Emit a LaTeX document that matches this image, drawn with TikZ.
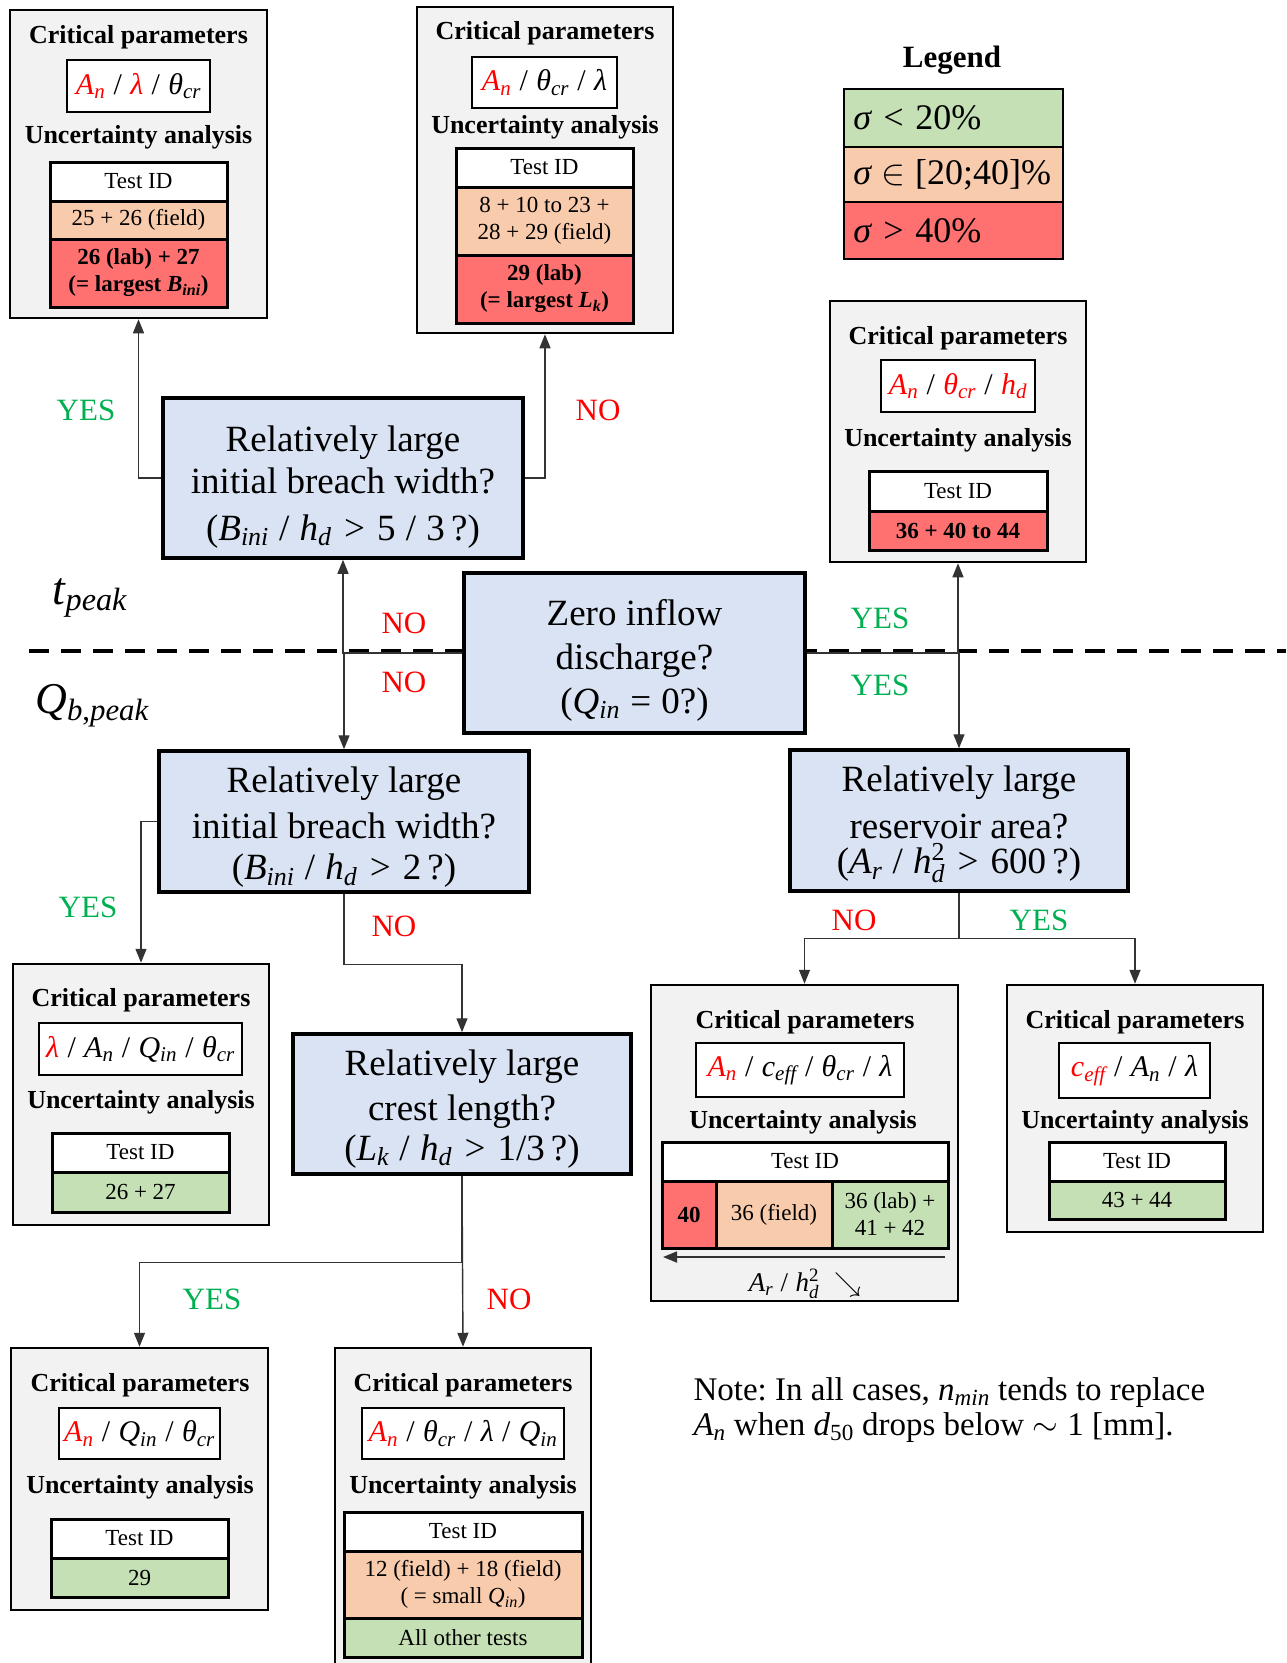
\RequirePackage{fix-cm}
\documentclass[tikz,border=0pt]{standalone}
\usepackage[no-math]{fontspec}
\setmainfont{Liberation Serif}
\usetikzlibrary{arrows.meta}

% math letters and digits in the text face
\DeclareSymbolFont{operators}{TU}{\rmdefault}{m}{n}
\DeclareSymbolFont{letters}{TU}{\rmdefault}{m}{it}
\mathcode`/="002F
\mathcode`,="602C
\mathcode`;="003B
\Umathchardef\lambda="0 "1 "03BB
\Umathchardef\theta="0 "1 "03B8
\Umathchardef\sigma="0 "1 "03C3

\definecolor{decblue}{RGB}{218,227,243}
\definecolor{resgrey}{RGB}{242,242,242}
\definecolor{cgreen}{RGB}{197,224,180}
\definecolor{corange}{RGB}{248,203,173}
\definecolor{cred}{RGB}{255,112,112}
\definecolor{yesgreen}{RGB}{0,176,80}
\definecolor{nored}{RGB}{255,0,0}

\newcommand{\rd}[1]{{\color{nored}#1}}
\newcommand{\dv}{\;/\;}

\begin{document}
\begin{tikzpicture}[x=1pt,y=-1pt,
    dec/.style={draw,line width=3.5pt,fill=decblue,inner sep=0pt},
    dectxt/.style={align=center,inner sep=0pt,font=\fontsize{37}{#1}\selectfont},
    res/.style={draw,line width=2.5pt,fill=resgrey,inner sep=0pt},
    ttl/.style={font=\bfseries\fontsize{26}{30}\selectfont},
    prm/.style={draw,line width=2pt,fill=white,inner sep=0pt,font=\fontsize{30}{36}\selectfont},
    cell/.style={draw,line width=3pt,inner sep=0pt,align=center,font=\fontsize{23}{27}\selectfont},
    leg/.style={draw,line width=2.5pt,inner sep=0pt,minimum width=219,font=\fontsize{36}{40}\selectfont},
    yeslbl/.style={text=yesgreen,font=\fontsize{31}{36}\selectfont},
    nolbl/.style={text=nored,font=\fontsize{31}{36}\selectfont},
    conn/.style={line width=1.4pt,draw=black!80},
    arr/.style={conn,-{Triangle[length=14pt,width=11pt]}}]
    \useasboundingbox (0,0) rectangle (1286,1663);

    % time / discharge split
    \draw[line width=4pt,dash pattern=on 20pt off 12pt] (29,651) -- (1286,651);
    \node[font=\fontsize{46}{48}\selectfont] (tpk) at (90,598) {$t_{peak}$};
    \node[font=\fontsize{44}{46}\selectfont] (qpk) at (92,706) {$Q_{b,peak}$};

    % questions
    \node[dec,minimum width=360,minimum height=160] (dec1) at (343,478) {};
    \node[dectxt=42] at ([yshift=-9pt]dec1.center) {Relatively large\\initial breach width?\\[5pt]$(B_{ini}\dv h_d > 5\dv 3\,?)$};
    \node[dec,minimum width=341,minimum height=160] (zero) at (634.5,653) {};
    \node[dectxt=44] at ([yshift=-7pt]zero.center) {Zero inflow\\discharge?\\$(Q_{in} = 0?)$};
    \node[dec,minimum width=370,minimum height=141] (dec2) at (344,821.5) {};
    \node[dectxt=46] at ([yshift=-6pt]dec2.center) {Relatively large\\initial breach width?\\[-5pt]$(B_{ini}\dv h_d > 2\,?)$};
    \node[dec,minimum width=338,minimum height=141] (dec3) at (959,820.5) {};
    \node[dectxt=47] at ([yshift=-4pt]dec3.center) {Relatively large\\reservoir area?\\[-12pt]$(A_r\dv h_d^2 > 600\,?)$};
    \node[dec,minimum width=338,minimum height=140] (dec4) at (462,1104) {};
    \node[dectxt=45] at ([yshift=-5pt]dec4.center) {Relatively large\\crest length?\\[-5pt]$(L_k\dv h_d > 1/3\,?)$};

    % legend
    \node[font=\bfseries\fontsize{31}{36}\selectfont] (legt) at (952,60) {Legend};
    \node[leg,fill=cgreen,minimum height=58] (leg1) at (953.5,118) {};
    \node[leg,fill=corange,minimum height=55] (leg2) at (953.5,174.5) {};
    \node[leg,fill=cred,minimum height=57] (leg3) at (953.5,230.5) {};
    \node[anchor=west,font=\fontsize{36}{40}\selectfont] at (leg1.west) {\hspace{7pt}$\sigma < 20\%$};
    \node[anchor=west,font=\fontsize{36}{40}\selectfont] at (leg2.west) {\hspace{7pt}$\sigma \in [20;40]\%$};
    \node[anchor=west,font=\fontsize{36}{40}\selectfont] at (leg3.west) {\hspace{7pt}$\sigma > 40\%$};

    % result 1
    \node[res,minimum width=257,minimum height=308] (res1) at (138.5,164) {};
    \node[ttl] at (138.5,37) {Critical parameters};
    \node[prm,minimum width=143,minimum height=52] (prm1) at (138.5,86) {$\rd{A_n}\dv\rd{\lambda}\dv\theta_{cr}$};
    \node[ttl] at (138.5,137) {Uncertainty analysis};
    \node[cell,fill=white,minimum width=177,minimum height=39] (t1a) at (138.5,181.5) {Test ID};
    \node[cell,fill=corange,minimum width=177,minimum height=38] (t1b) at (138.5,220) {25 + 26 (field)};
    \node[cell,fill=cred,minimum width=177,minimum height=68] (t1c) at (138.5,273) {\textbf{26 (lab) + 27}\\\textbf{(= largest \textit{B}\textsubscript{\textit{ini}})}};

    % result 2
    \node[res,minimum width=256,minimum height=326] (res2) at (545,170) {};
    \node[ttl] at (545,33) {Critical parameters};
    \node[prm,minimum width=145,minimum height=51] (prm2) at (544.5,82.5) {$\rd{A_n}\dv\theta_{cr}\dv\lambda$};
    \node[ttl] at (545,127) {Uncertainty analysis};
    \node[cell,fill=white,minimum width=177,minimum height=39] (t2a) at (544.5,167.5) {Test ID};
    \node[cell,fill=corange,minimum width=177,minimum height=68] (t2b) at (544.5,221) {8 + 10 to 23 +\\28 + 29 (field)};
    \node[cell,fill=cred,minimum width=177,minimum height=68] (t2c) at (544.5,289) {\textbf{29 (lab)}\\\textbf{(= largest \textit{L}\textsubscript{\textit{k}})}};

    % result 3
    \node[res,minimum width=256,minimum height=261] (res3) at (958,431.5) {};
    \node[ttl] at (958,338) {Critical parameters};
    \node[prm,minimum width=154,minimum height=52] (prm3) at (958,386) {$\rd{A_n}\dv\rd{\theta_{cr}}\dv\rd{h_d}$};
    \node[ttl] at (958,440) {Uncertainty analysis};
    \node[cell,fill=white,minimum width=178,minimum height=40] (t3a) at (958,491) {Test ID};
    \node[cell,fill=cred,minimum width=178,minimum height=39] (t3b) at (958,530.5) {\textbf{36 + 40 to 44}};

    % result 4
    \node[res,minimum width=256,minimum height=261] (res4) at (141,1094.5) {};
    \node[ttl] at (141,1000) {Critical parameters};
    \node[prm,minimum width=203,minimum height=52] (prm4) at (140.5,1049) {$\rd{\lambda}\dv A_n\dv Q_{in}\dv\theta_{cr}$};
    \node[ttl] at (141,1102) {Uncertainty analysis};
    \node[cell,fill=white,minimum width=177,minimum height=39] (t4a) at (140.5,1152.5) {Test ID};
    \node[cell,fill=cgreen,minimum width=177,minimum height=40] (t4b) at (140.5,1192) {26 + 27};

    % result 5
    \node[res,minimum width=307,minimum height=316] (res5) at (804.5,1143) {};
    \node[ttl] at (805,1022) {Critical parameters};
    \node[prm,minimum width=208,minimum height=54] (prm5) at (800,1070) {$\rd{A_n}\dv c_{eff}\dv\theta_{cr}\dv\lambda$};
    \node[ttl] at (803,1122) {Uncertainty analysis};
    \node[cell,fill=white,minimum width=286,minimum height=39] (t5a) at (805,1161.5) {Test ID};
    \node[cell,fill=cred,minimum width=54,minimum height=67] (t5b) at (689,1214.5) {\textbf{40}};
    \node[cell,fill=corange,minimum width=116,minimum height=67] (t5c) at (774,1214.5) {36 (field)};
    \node[cell,fill=cgreen,minimum width=116,minimum height=67] (t5d) at (890,1214.5) {36 (lab) +\\41 + 42};
    \coordinate (ax0) at (945,1257);
    \coordinate (ax1) at (663,1257);
    \draw[arr,line width=1.8pt] (ax0) -- (ax1);
    \node[font=\fontsize{27}{30}\selectfont] (axl) at (805,1284) {$A_r\dv h_d^2 \;\searrow$};

    % result 6
    \node[res,minimum width=256,minimum height=247] (res6) at (1135,1108.5) {};
    \node[ttl] at (1135,1022) {Critical parameters};
    \node[prm,minimum width=151,minimum height=55] (prm6) at (1134.5,1070.5) {$\rd{c_{eff}}\dv A_n\dv\lambda$};
    \node[ttl] at (1135,1122) {Uncertainty analysis};
    \node[cell,fill=white,minimum width=176,minimum height=39] (t6a) at (1137,1161.5) {Test ID};
    \node[cell,fill=cgreen,minimum width=176,minimum height=38] (t6b) at (1137,1200) {43 + 44};

    % result 7
    \node[res,minimum width=257,minimum height=262] (res7) at (139.5,1479) {};
    \node[ttl] at (140,1385) {Critical parameters};
    \node[prm,minimum width=161,minimum height=51] (prm7) at (139.5,1433.5) {$\rd{A_n}\dv Q_{in}\dv\theta_{cr}$};
    \node[ttl] at (140,1487) {Uncertainty analysis};
    \node[cell,fill=white,minimum width=177,minimum height=39] (t7a) at (139.5,1538.5) {Test ID};
    \node[cell,fill=cgreen,minimum width=177,minimum height=39] (t7b) at (139.5,1577.5) {29};

    % result 8
    \node[res,minimum width=256,minimum height=320] (res8) at (463,1508) {};
    \node[ttl] at (463,1385) {Critical parameters};
    \node[prm,minimum width=202,minimum height=51] (prm8) at (463,1433.5) {$\rd{A_n}\dv\theta_{cr}\dv\lambda\dv Q_{in}$};
    \node[ttl] at (463,1487) {Uncertainty analysis};
    \node[cell,fill=white,minimum width=238,minimum height=39] (t8a) at (463,1531.5) {Test ID};
    \node[cell,fill=corange,minimum width=238,minimum height=67] (t8b) at (463,1584.5) {12 (field) + 18 (field)\\( = small $Q_{in}$)};
    \node[cell,fill=cgreen,minimum width=238,minimum height=39] (t8c) at (463,1637.5) {All other tests};

    % connectors
    \draw[arr] (dec1.west) -| (res1.south);
    \draw[arr] (dec1.east) -| (res2.south);
    \draw[arr] (zero.west) -| (dec1.south);
    \draw[arr] (zero.west) -| (dec2.north);
    \draw[arr] (zero.east) -| (res3.south);
    \draw[arr] (zero.east) -| (dec3.north);
    \draw[arr] (dec2.west) -| (res4.north);
    \draw[arr] (dec2.south) -- ++(0,71) -| (dec4.north);
    \draw[arr] (dec3.south) -- ++(0,46) -| (res5.north);
    \draw[arr] (dec3.south) -- ++(0,46) -| (res6.north);
    \draw[arr] (dec4.south) -- ++(0,87) -| (res7.north);
    \draw[arr] (dec4.south) -- (res8.north);

    % branch labels
    \node[yeslbl] at (86,410) {YES};
    \node[nolbl] at (598,410) {NO};
    \node[nolbl] at (404,623) {NO};
    \node[nolbl] at (404,682) {NO};
    \node[yeslbl] at (880,618) {YES};
    \node[yeslbl] at (880,685) {YES};
    \node[yeslbl] at (88,907) {YES};
    \node[nolbl] at (394,926) {NO};
    \node[nolbl] at (854,920) {NO};
    \node[yeslbl] at (1039,920) {YES};
    \node[yeslbl] at (212,1299) {YES};
    \node[nolbl] at (509,1299) {NO};

    % note
    \node[anchor=west,align=left,font=\fontsize{33}{35}\selectfont] (note) at (690,1410) {\frenchspacing Note: In all cases, $n_{min}$ tends to replace\\$A_n$ when $d_{50}$ drops below $\sim 1$ [mm].};
\end{tikzpicture}
\end{document}
